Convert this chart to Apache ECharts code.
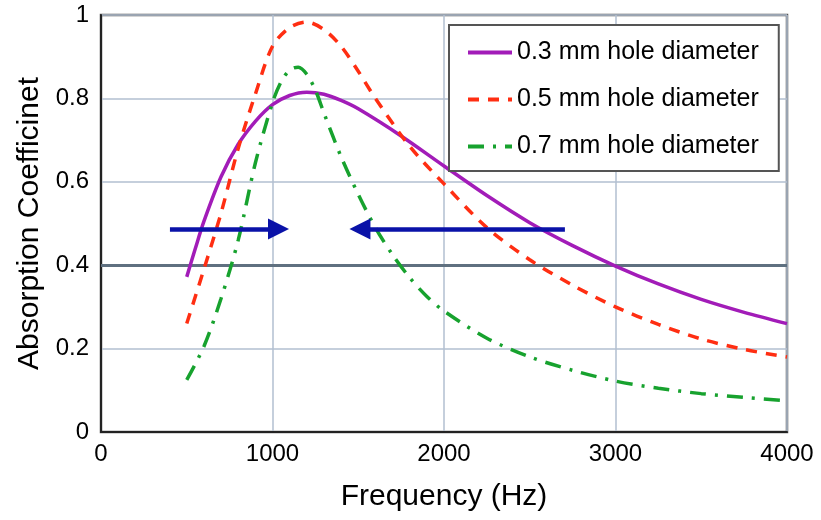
<!DOCTYPE html>
<html>
<head>
<meta charset="utf-8">
<script src="https://cdn.jsdelivr.net/npm/echarts@6/dist/echarts.min.js"></script>
<style>html,body{margin:0;padding:0;background:#fff}#c{width:821px;height:520px}</style>
</head>
<body>
<div id="c"></div>
<script>
const seriesNames = ['0.3 mm hole diameter', '0.5 mm hole diameter', '0.7 mm hole diameter'];
const hole03 = [[500,0.372],[550,0.44],[600,0.505],[700,0.612],[800,0.69],[900,0.745],[1000,0.785],[1100,0.807],[1200,0.815],[1300,0.81],[1400,0.795],[1500,0.775],[1750,0.71],[2000,0.638],[2250,0.567],[2500,0.502],[2750,0.447],[3000,0.398],[3250,0.355],[3500,0.318],[3750,0.287],[4000,0.26]];
const hole05 = [[500,0.26],[600,0.39],[700,0.525],[800,0.68],[900,0.81],[1000,0.925],[1100,0.97],[1200,0.983],[1300,0.965],[1400,0.925],[1500,0.865],[1600,0.80],[1800,0.685],[2000,0.595],[2250,0.49],[2500,0.413],[2750,0.352],[3000,0.30],[3250,0.258],[3500,0.223],[3750,0.198],[4000,0.18]];
const hole07 = [[500,0.125],[600,0.205],[700,0.32],[800,0.46],[900,0.645],[1000,0.79],[1050,0.84],[1100,0.868],[1150,0.875],[1200,0.858],[1250,0.82],[1300,0.765],[1400,0.66],[1500,0.57],[1600,0.49],[1700,0.425],[1800,0.37],[1900,0.325],[2000,0.29],[2250,0.225],[2500,0.18],[2750,0.148],[3000,0.122],[3250,0.105],[3500,0.092],[3750,0.083],[4000,0.075]];
const arrowRight = [[402,0.487],[1035,0.487]];
const arrowLeft = [[2705,0.487],[1510,0.487]];
const emphasisLevel = 0.4;
const xTicks = [0, 4000, 1000];
const yTicks = [0, 1, 0.2];

const FONT = '"Liberation Sans", Arial, sans-serif';
const chart = echarts.init(document.getElementById('c'), null, {renderer: 'canvas'});
chart.setOption({
  animation: false,
  backgroundColor: '#fff',
  textStyle: {fontFamily: FONT},
  grid: {left: 101, right: 34, top: 15, bottom: 88, show: true, borderColor: '#555', borderWidth: 2.5},
  legend: {
    data: seriesNames,
    orient: 'vertical',
    left: 449, top: 25,
    padding: [15, 20, 12, 17],
    itemGap: 22,
    itemWidth: 44, itemHeight: 14,
    itemStyle: {opacity: 0},
    lineStyle: {width: 4},
    backgroundColor: '#fff',
    borderColor: '#555', borderWidth: 2,
    textStyle: {fontSize: 25, color: '#000', fontFamily: FONT}
  },
  xAxis: {
    type: 'value', min: xTicks[0], max: xTicks[1], interval: xTicks[2],
    name: 'Frequency (Hz)', nameLocation: 'middle', nameGap: 50,
    nameTextStyle: {fontSize: 30, color: '#000', fontFamily: FONT},
    axisLine: {show: true, lineStyle: {color: '#222', width: 2}},
    axisTick: {show: false},
    axisLabel: {fontSize: 24, color: '#000', margin: 10, fontFamily: FONT, formatter: v => String(v)},
    splitLine: {show: true, lineStyle: {color: '#b2bfd0', width: 1.5}}
  },
  yAxis: {
    type: 'value', min: yTicks[0], max: yTicks[1], interval: yTicks[2],
    name: 'Absorption Coefficinet', nameLocation: 'middle', nameGap: 52,
    nameTextStyle: {fontSize: 30, color: '#000', fontFamily: FONT},
    axisLine: {show: true, lineStyle: {color: '#222', width: 2}},
    axisTick: {show: false},
    axisLabel: {fontSize: 24, color: '#000', margin: 12, fontFamily: FONT},
    splitLine: {show: true, lineStyle: {color: '#b2bfd0', width: 1.5}}
  },
  series: [
    {
      type: 'lines', coordinateSystem: 'cartesian2d', z: 1, silent: true,
      data: [{coords: [[xTicks[0], emphasisLevel], [xTicks[1], emphasisLevel]]}],
      lineStyle: {color: '#5f7080', width: 3, opacity: 1}
    },
    {
      name: seriesNames[0], type: 'line', data: hole03, smooth: 0.3, showSymbol: false, symbol: 'none',
      lineStyle: {color: '#a21cb8', width: 3.5}, itemStyle: {color: '#a21cb8'}, z: 3
    },
    {
      name: seriesNames[1], type: 'line', data: hole05, smooth: 0.3, showSymbol: false, symbol: 'none',
      lineStyle: {color: '#ff2e12', width: 3.5, type: [11, 9]}, itemStyle: {color: '#ff2e12'}, z: 3
    },
    {
      name: seriesNames[2], type: 'line', data: hole07, smooth: 0.3, showSymbol: false, symbol: 'none',
      lineStyle: {color: '#17a22e', width: 3.5, type: [16, 9, 3, 9]}, itemStyle: {color: '#17a22e'}, z: 3
    },
    {
      type: 'lines', coordinateSystem: 'cartesian2d', z: 5, silent: true,
      symbol: ['none', 'triangle'], symbolSize: 21,
      data: [{coords: arrowRight}, {coords: arrowLeft}],
      lineStyle: {color: '#0a12a8', width: 4.5, opacity: 1}
    }
  ]
});
</script>
</body>
</html>
